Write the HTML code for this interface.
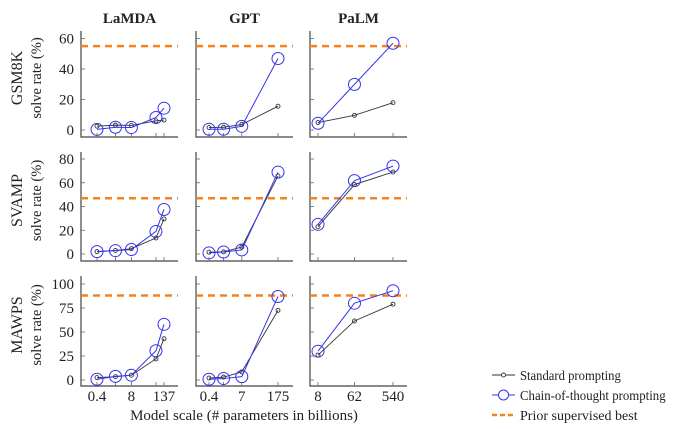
<!DOCTYPE html>
<html><head><meta charset="utf-8">
<style>
body{margin:0;background:#fff;}
svg{display:block;}
svg text{font-family:"Liberation Serif","DejaVu Serif",serif;}
</style></head>
<body>
<svg id="chart" width="678" height="429" viewBox="0 0 678 429" xmlns="http://www.w3.org/2000/svg"></svg>
<script>
// ---- data ----
const models = ["LaMDA", "GPT", "PaLM"];
const datasets = ["GSM8K", "SVAMP", "MAWPS"];
const lamdaSizes = [0.4, 2, 8, 68, 137];
const gptSizes = [0.35, 1.3, 6.7, 175];
const palmSizes = [8, 62, 540];
const lamdaTicks = ["0.4", "8", "137"];
const gptTicks = ["0.4", "7", "175"];
const palmTicks = ["8", "62", "540"];
const gsm8kYTicks = [0, 20, 40, 60];
const svampYTicks = [0, 20, 40, 60, 80];
const mawpsYTicks = [0, 25, 50, 75, 100];
const priorBest = [55, 47, 88];
// GSM8K
const gsmLamdaStd = [2.5, 3.2, 3.0, 6.0, 6.5];
const gsmLamdaCot = [0.4, 1.8, 1.6, 8.2, 14.3];
const gsmGptStd = [1.6, 1.8, 3.6, 15.6];
const gsmGptCot = [0.5, 0.5, 2.4, 46.9];
const gsmPalmStd = [4.9, 9.6, 17.9];
const gsmPalmCot = [4.4, 29.9, 56.9];
// SVAMP
const svLamdaStd = [2.0, 3.0, 4.5, 13.5, 29.5];
const svLamdaCot = [2.0, 2.8, 3.8, 19.0, 37.5];
const svGptStd = [1.5, 1.8, 5.8, 65.7];
const svGptCot = [0.9, 1.7, 3.4, 68.9];
const svPalmStd = [23.0, 58.5, 69.0];
const svPalmCot = [25.0, 61.8, 74.0];
// MAWPS
const mwLamdaStd = [2.5, 3.5, 5.0, 22.0, 43.0];
const mwLamdaCot = [0.8, 3.8, 5.0, 30.5, 58.0];
const mwGptStd = [2.0, 3.0, 8.5, 72.5];
const mwGptCot = [0.8, 1.5, 3.5, 87.0];
const mwPalmStd = [26.0, 61.5, 79.0];
const mwPalmCot = [30.0, 80.0, 93.0];

const svg = document.getElementById('chart');
const NS = "http://www.w3.org/2000/svg";
const FF = '"Liberation Serif", "DejaVu Serif", serif';
function mk(tag, attrs, parent){
  const e = document.createElementNS(NS, tag);
  for (const k in attrs) e.setAttribute(k, attrs[k]);
  if (tag === 'text') e.setAttribute('font-family', FF);
  (parent||svg).appendChild(e);
  return e;
}
const cols = [{x0:81,x1:178,pl:97,pr:164},{x0:196,x1:293,pl:209,pr:278},{x0:310,x1:407,pl:318,pr:393}];
const rows = [
  {top:31, bottom:137, v0:0, y0:130, v1:60, y1:38.5, ticks:gsm8kYTicks},
  {top:152, bottom:261, v0:0, y0:254, v1:80, y1:159, ticks:svampYTicks},
  {top:276, bottom:386, v0:0, y0:380, v1:100, y1:284, ticks:mawpsYTicks}
];
const sizes = [lamdaSizes, gptSizes, palmSizes];
const tickLabels = [lamdaTicks, gptTicks, palmTicks];
const stdData = [[gsmLamdaStd,gsmGptStd,gsmPalmStd],[svLamdaStd,svGptStd,svPalmStd],[mwLamdaStd,mwGptStd,mwPalmStd]];
const cotData = [[gsmLamdaCot,gsmGptCot,gsmPalmCot],[svLamdaCot,svGptCot,svPalmCot],[mwLamdaCot,mwGptCot,mwPalmCot]];

function xScale(c, v){
  const s = sizes[c]; const C = cols[c];
  const a = Math.log10(s[0]), b = Math.log10(s[s.length-1]);
  return C.pl + (Math.log10(v)-a)/(b-a)*(C.pr-C.pl);
}
function yScale(r, v){
  const R = rows[r];
  return R.y0 + (v-R.v0)/(R.v1-R.v0)*(R.y1-R.y0);
}

models.forEach((m,c)=>{
  const t = mk('text',{x:(cols[c].x0+cols[c].x1)/2,y:23,'text-anchor':'middle','font-size':15,'font-weight':'bold',fill:'#222'});
  t.textContent = m;
  
  
});

datasets.forEach((d,r)=>{
  const R = rows[r];
  const g1 = mk('text',{transform:`translate(22,${(R.top+R.bottom)/2-6}) rotate(-90)`,'text-anchor':'middle','font-size':16,fill:'#222'});
  g1.textContent = d;
  
  
  const g2 = mk('text',{transform:`translate(41,${(R.top+R.bottom)/2-6}) rotate(-90)`,'text-anchor':'middle','font-size':14.5,fill:'#222'});
  g2.textContent = "solve rate (%)";
  
  
  R.ticks.forEach(v=>{
    const lt = mk('text',{x:74,y:yScale(r,v)+5,'text-anchor':'end','font-size':15,fill:'#222'});
    lt.textContent = v;
    
    
  });
  for (let c=0;c<3;c++){
    const C = cols[c];
    const g = mk('g',{});
    
    
    mk('path',{d:`M${C.x0},${R.top}V${R.bottom}H${C.x1}`,fill:'none',stroke:'#444','stroke-width':1.2},g);
    R.ticks.forEach(v=>{ mk('line',{x1:C.x0,x2:C.x0+4,y1:yScale(r,v),y2:yScale(r,v),stroke:'#666','stroke-width':0.8},g); });
    const s = sizes[c];
    s.forEach(v=>{ mk('line',{x1:xScale(c,v),x2:xScale(c,v),y1:R.bottom,y2:R.bottom-4,stroke:'#666','stroke-width':0.8},g); });
    const pl = mk('line',{x1:C.x0,x2:C.x1,y1:yScale(r,priorBest[r]),y2:yScale(r,priorBest[r]),stroke:'#f5821f','stroke-width':2.5,'stroke-dasharray':'7,5'},g);
    
    
    const sd = stdData[r][c], cd = cotData[r][c];
    const sp = mk('polyline',{points:s.map((v,i)=>xScale(c,v)+','+yScale(r,sd[i])).join(' '),fill:'none',stroke:'#333','stroke-width':0.9},g);
    
    
    s.forEach((v,i)=>{
      const p = mk('circle',{cx:xScale(c,v),cy:yScale(r,sd[i]),r:2,fill:'none',stroke:'#333','stroke-width':0.9},g);
      
      
    });
    const cp = mk('polyline',{points:s.map((v,i)=>xScale(c,v)+','+yScale(r,cd[i])).join(' '),fill:'none',stroke:'#3333ee','stroke-width':1},g);
    
    
    s.forEach((v,i)=>{
      const p = mk('circle',{cx:xScale(c,v),cy:yScale(r,cd[i]),r:6,fill:'none',stroke:'#3333ee','stroke-width':1},g);
      
      
    });
  }
});

tickLabels.forEach((tl,c)=>{
  const s = sizes[c];
  const vals = [s[0], c===0?8:(c===1?6.7:s[1]), s[s.length-1]];
  tl.forEach((lab,i)=>{
    const t = mk('text',{x:xScale(c,vals[i]),y:401,'text-anchor':'middle','font-size':15,fill:'#222'});
    t.textContent = lab;
    
    
  });
});
const xt = mk('text',{x:244,y:420,'text-anchor':'middle','font-size':15,fill:'#222'});
xt.textContent = "Model scale (# parameters in billions)";



// legend
const lg = mk('g',{});


const items = ["Standard prompting","Chain-of-thought prompting","Prior supervised best"];
items.forEach((txt,i)=>{
  const y = 375 + i*20;
  if (i===0){
    mk('line',{x1:492,x2:515,y1:y,y2:y,stroke:'#333','stroke-width':0.9},lg);
    mk('circle',{cx:503.5,cy:y,r:2,fill:'#fff',stroke:'#333','stroke-width':0.9},lg);
  } else if (i===1){
    mk('line',{x1:492,x2:515,y1:y,y2:y,stroke:'#3333ee','stroke-width':1},lg);
    mk('circle',{cx:503.5,cy:y,r:5,fill:'#fff',stroke:'#3333ee','stroke-width':1},lg);
  } else {
    mk('line',{x1:492,x2:515,y1:y,y2:y,stroke:'#f5821f','stroke-width':2.5,'stroke-dasharray':'5,3'},lg);
  }
  const t = mk('text',{x:520,y:y+5,'font-size':13.5,fill:'#222',textLength:txt.length*5.6,lengthAdjust:'spacingAndGlyphs'},lg);
  t.textContent = txt;
  
  
});
</script>
</body></html>
